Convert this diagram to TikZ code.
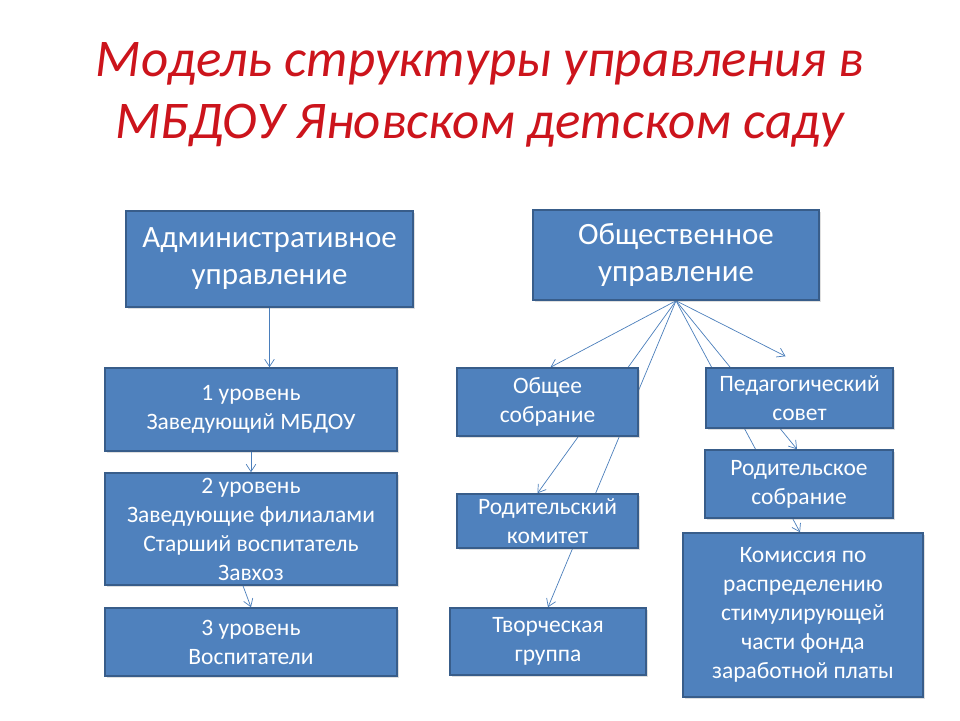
\documentclass[tikz,border=0pt]{standalone}
\usepackage{fontspec}
\setmainfont{Carlito}
\usetikzlibrary{arrows.meta,calc,backgrounds,shadows}
\definecolor{BoxFill}{RGB}{79,129,189}
\definecolor{BoxLine}{RGB}{56,93,138}
\definecolor{LinkC}{RGB}{74,126,187}
\definecolor{TitleRed}{RGB}{204,20,28}
\tikzset{
  orgbox/.style={draw=BoxLine,line width=1.5pt,fill=BoxFill,text=white,
                 align=center,inner sep=0pt,
                 font=\fontsize{23.5}{29}\selectfont,
                 drop shadow={shadow xshift=1.5pt,shadow yshift=-2pt,opacity=0.25}},
  headbox/.style={orgbox,font=\fontsize{31}{37}\selectfont},
  link/.style={-{Straight Barb[length=2.6mm,width=3.4mm]},LinkC,line width=0.7pt},
}

\begin{document}
\begin{tikzpicture}[x=1pt,y=-1pt]
  \useasboundingbox (0,0) rectangle (960,720);
  % title
  \node[TitleRed,align=center,font=\fontsize{53}{62}\selectfont\itshape] (title) at (480,95)
    {Модель структуры управления в\\МБДОУ Яновском детском саду};
  % administrative branch
  \node[headbox,minimum width=287,minimum height=96] (adm) at (269.5,259) {Административное\\управление};
  \node[orgbox,minimum width=292,minimum height=83] (lvA) at (251,409.5) {1 уровень\\Заведующий МБДОУ};
  \node[orgbox,minimum width=292,minimum height=112] (lvB) at (251,529)
    {2 уровень\\Заведующие филиалами\\Старший воспитатель\\Завхоз};
  \node[orgbox,minimum width=292,minimum height=68] (lvC) at (251,642) {3 уровень\\Воспитатели};
  % public branch
  \node[headbox,minimum width=286,minimum height=90] (pub) at (676,255) {Общественное\\управление};
  \node[orgbox,minimum width=181,minimum height=68] (gen) at (547.5,402) {Общее\\собрание};
  \node[orgbox,minimum width=187,minimum height=60] (ped) at (799.5,398) {Педагогический\\совет};
  \node[orgbox,minimum width=181,minimum height=54] (pcom) at (547.5,521) {Родительский\\комитет};
  \node[orgbox,minimum width=188,minimum height=68] (pmeet) at (799,484) {Родительское\\собрание};
  \node[orgbox,minimum width=196,minimum height=67] (crea) at (548,641.5) {Творческая\\группа};
  \node[orgbox,minimum width=240,minimum height=164] (comm) at (803,615)
    {Комиссия по\\распределению\\стимулирующей\\части фонда\\заработной платы};
  % connectors
  \draw[link] (adm.south) -- (adm.south |- lvA.north);
  \draw[link] (lvA.south) -- (lvB.north);
  \draw[link] ($(lvB.south)+(-8,0)$) -- (lvC.north);
  \begin{scope}[on background layer]
    \draw[link] (pub.south) -- ($(gen.north)+(3,0)$);
    \draw[link] (pub.south) -- ($(pcom.north)+(-10,0)$);
    \draw[link] (pub.south) -- (crea.north);
    \draw[link] (pub.south) -- ($(ped.north)+(-14,-11)$);
    \draw[link] (pub.south) -- ($(pmeet.north)+(-2,0)$);
    \draw[link] (pub.south) -- ($(comm.north)+(-3,0)$);
  \end{scope}
\end{tikzpicture}
\end{document}
